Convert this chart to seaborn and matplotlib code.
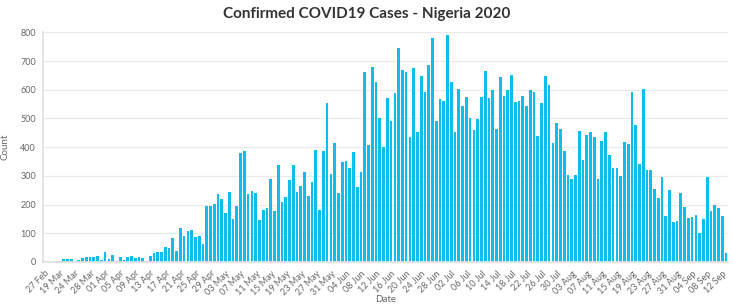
import matplotlib
matplotlib.use("Agg")
import matplotlib.pyplot as plt
import seaborn as sns
import pandas as pd

early_dates = ["27 Feb", "09 Mar", "17 Mar", "18 Mar", "19 Mar", "21 Mar", "22 Mar", "23 Mar"]
daily_dates = [d.strftime("%d %b") for d in pd.date_range("2020-03-24", "2020-09-13", freq="D")]
dates = early_dates + daily_dates

counts = [
    1, 1, 1, 5, 4, 11, 9, 10, 5, 7, 14, 16, 17, 16, 20, 8, 35, 11, 25, 4,
    18, 7, 17, 20, 15, 17, 13, 5, 21, 30, 35, 35, 51, 48, 85, 38, 117, 90, 108, 113,
    86, 90,
    64, 195, 195, 202, 237, 220, 169, 245, 150, 195, 380, 386, 236, 248, 242,
    146, 181, 188, 288, 177, 338, 208, 227, 285, 338, 245, 265, 314, 229, 277,
    390, 181, 387, 553, 307, 416, 241, 350, 351, 329, 383, 260,
    315, 662, 409, 680, 627, 500, 402, 571, 490, 588, 745, 667, 660, 436, 676,
    452, 649, 593, 685, 780, 490, 566, 562, 791, 626, 453, 603, 545, 576, 503,
    459, 499, 576, 664, 572, 599, 464,
    644, 579, 600, 652, 557, 562, 577, 544, 599, 592, 440, 555, 648, 616, 413,
    483, 464, 386, 303, 288, 303, 457, 355, 443, 453, 437, 290, 423, 453, 373,
    329, 326, 298, 417, 412, 593, 477, 341, 601, 322, 322, 253, 222, 297, 160,
    251, 140, 143, 240, 190, 152, 157, 163, 101, 148, 297, 176, 198, 188, 160,
    31,
]

y_ticks = [0, 100, 200, 300, 400, 500, 600, 700, 800]

df = pd.DataFrame({"Date": dates, "Count": counts})

sns.set_theme(style="white")
plt.rcParams["font.family"] = ["Lato", "DejaVu Sans"]

fig = plt.figure(figsize=(7.33, 3.07), dpi=100)
ax = fig.add_axes([0.0587, 0.1466, 0.9343, 0.7482])

sns.barplot(data=df, x="Date", y="Count", color="#0DBDEB", saturation=1,
            width=0.72, ax=ax, edgecolor="none")

ax.set_xlim(-0.5, len(dates) - 0.5)
ax.set_ylim(0, 800)
ax.set_yticks(y_ticks)
ax.set_yticklabels([str(v) for v in y_ticks], fontsize=6.5, color="#666666")
ax.yaxis.grid(True, color="#EAEAEA", linewidth=0.9)
ax.set_axisbelow(True)

pos = list(range(0, len(dates), 4))
ax.set_xticks(pos)
ax.set_xticklabels([dates[p] for p in pos], rotation=45, ha="right",
                   rotation_mode="anchor", fontsize=6.5, color="#666666")

ax.tick_params(axis="x", length=3, color="#E0E0E0", pad=2)
ax.tick_params(axis="y", length=3, color="#E0E0E0", pad=2)

for s in ["top", "right"]:
    ax.spines[s].set_visible(False)
ax.spines["left"].set_color("#E0E0E0")
ax.spines["bottom"].set_color("#E0E0E0")

ax.set_xlabel("Date", fontsize=7, color="#666666")
ax.xaxis.set_label_coords(0.5, -0.145)
ax.set_ylabel("Count", fontsize=7, color="#666666", labelpad=8)

fig.text(0.5, 0.955, "Confirmed COVID19 Cases - Nigeria 2020", ha="center", va="center",
         fontsize=11, fontweight="bold", color="#333333")

fig.savefig("out.png", dpi=100, facecolor="white")
